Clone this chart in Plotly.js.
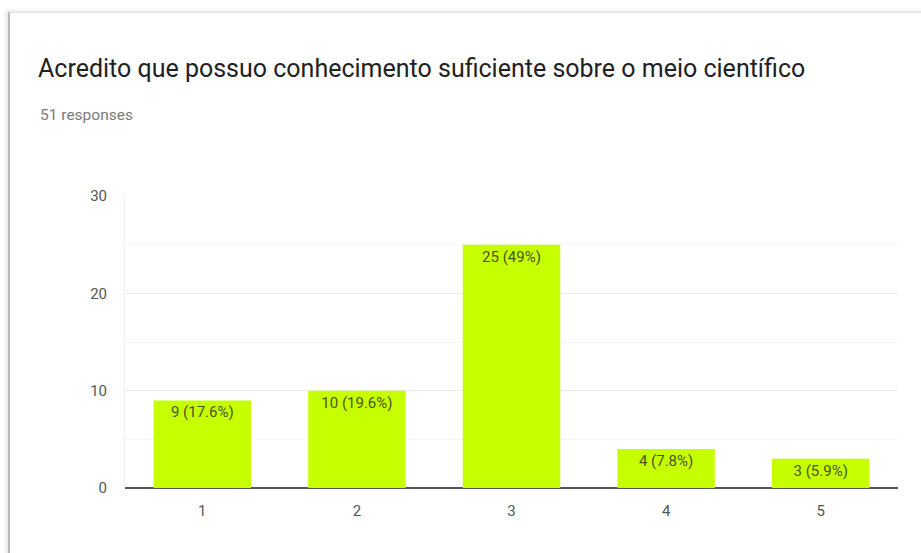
<!DOCTYPE html>
<html>
<head>
<meta charset="utf-8">
<script src="https://cdn.plot.ly/plotly-3.0.1.min.js"></script>
<style>
  html, body { margin: 0; padding: 0; background: #ffffff; width: 921px; height: 553px; overflow: hidden; }
  #card { position: absolute; left: 8px; top: 12px; width: 930px; height: 560px;
          border-left: 2px solid #b8b8b8; border-top: 1px solid #e2e2e2;
          box-shadow: -2px -1px 4px rgba(0,0,0,0.12); background: #fff; }
  #chart { position: absolute; left: 0; top: 0; width: 921px; height: 553px; }
</style>
</head>
<body>
<div id="card"></div>
<div id="chart"></div>
<script>
const categories = ['1', '2', '3', '4', '5'];
const counts = [9, 10, 25, 4, 3];
const percents = ['17.6%', '19.6%', '49%', '7.8%', '5.9%'];
const yTicks = [0, 10, 20, 30];

const trace = {
  type: 'bar',
  x: categories,
  y: counts,
  customdata: percents,
  texttemplate: '%{y} (%{customdata})',
  textposition: 'inside',
  insidetextanchor: 'end',
  textangle: 0,
  constraintext: 'none',
  textfont: { family: 'Roboto, sans-serif', size: 15, color: '#4a5420' },
  marker: { color: '#c6ff00', line: { width: 0 } },
  hoverinfo: 'skip'
};

const layout = {
  width: 921,
  height: 553,
  paper_bgcolor: 'rgba(0,0,0,0)',
  plot_bgcolor: 'rgba(0,0,0,0)',
  margin: { l: 125, r: 23, t: 196, b: 65 },
  bargap: 0.37,
  showlegend: false,
  font: { family: 'Roboto, sans-serif', color: '#555' },
  title: {
    text: 'Acredito que possuo conhecimento suficiente sobre o meio científico',
    font: { family: 'Roboto, sans-serif', size: 25, color: '#212121' },
    xref: 'container', yref: 'container',
    x: 38 / 921, xanchor: 'left',
    y: 1 - 68 / 553, yanchor: 'middle'
  },
  annotations: [{
    text: '51 responses',
    xref: 'paper', yref: 'paper',
    x: (38 - 125) / 773, xanchor: 'left',
    y: 1 + (196 - 115) / 292, yanchor: 'middle',
    showarrow: false,
    font: { family: 'Roboto, sans-serif', size: 15.5, color: '#7a7a7a' }
  }],
  xaxis: {
    type: 'category',
    showgrid: false,
    showline: false,
    zeroline: false,
    ticks: '',
    ticklabelstandoff: 12,
    tickfont: { family: 'Roboto, sans-serif', size: 15, color: '#555' },
    fixedrange: true
  },
  yaxis: {
    range: [0, 30],
    tickvals: yTicks,
    ticktext: yTicks.map(String),
    showgrid: true,
    gridcolor: '#ececec',
    gridwidth: 1,
    minor: { dtick: 5, showgrid: true, gridcolor: '#f6f6f6', gridwidth: 1, ticks: '' },
    zeroline: true,
    zerolinecolor: '#555555',
    zerolinewidth: 1.6,
    showline: true,
    linecolor: '#f2f2f2',
    linewidth: 1,
    ticks: '',
    ticklabelstandoff: 14,
    tickfont: { family: 'Roboto, sans-serif', size: 15, color: '#555' },
    fixedrange: true
  }
};

Plotly.newPlot('chart', [trace], layout, { displayModeBar: false, staticPlot: true });
</script>
</body>
</html>
